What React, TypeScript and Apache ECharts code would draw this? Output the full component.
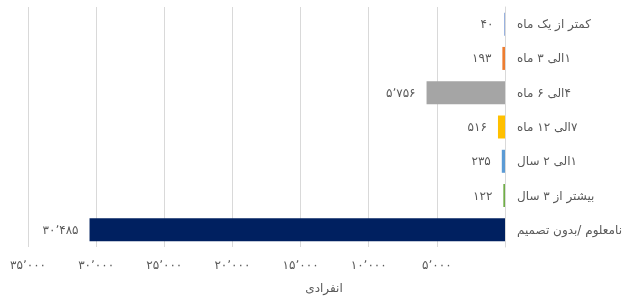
import React, { useEffect, useRef } from "react";
import * as echarts from "echarts";

const categories = [
  "کمتر از یک ماه",
  "۱الی ۳ ماه",
  "۴الی ۶ ماه",
  "۷الی ۱۲ ماه",
  "۱الی ۲ سال",
  "بیشتر از ۳ سال",
  "نامعلوم /بدون تصمیم",
];
const values = [40, 193, 5756, 516, 235, 122, 30485];
const barColors = ["#4472C4", "#ED7D31", "#A5A5A5", "#FFC000", "#5B9BD5", "#70AD47", "#002060"];
const axisMin = 0;
const axisMax = 35000;
const axisStep = 5000;
const axisTitle = "انفرادی";

const faDigits = "۰۱۲۳۴۵۶۷۸۹";
function toFa(n: number): string {
  const s = Math.round(n)
    .toString()
    .replace(/\B(?=(\d{3})+(?!\d))/g, "٬");
  return s.replace(/\d/g, (d) => faDigits[Number(d)]);
}
const rtl = (s: string) => "\u202B" + s + "\u202C";

const FONT = "'DejaVu Sans', Arial, sans-serif";
const TEXT_COLOR = "#595959";

export default function App() {
  const ref = useRef<HTMLDivElement>(null);
  useEffect(() => {
    if (!ref.current) return;
    const chart = echarts.init(ref.current, null, { renderer: "svg" });
    chart.setOption({
      animation: false,
      textStyle: { fontFamily: FONT },
      grid: { left: 28, right: 122, top: 7, bottom: 49, containLabel: false },
      xAxis: {
        type: "value",
        inverse: true,
        min: axisMin,
        max: axisMax,
        interval: axisStep,
        axisLine: { show: false },
        axisTick: { show: false },
        splitLine: { lineStyle: { color: "#d9d9d9", width: 1 } },
        axisLabel: {
          color: TEXT_COLOR,
          fontSize: 12,
          fontFamily: FONT,
          margin: 12,
          formatter: (v: number) => (v === 0 ? "" : toFa(v)),
        },
      },
      yAxis: {
        type: "category",
        position: "right",
        inverse: true,
        data: categories,
        axisLine: { show: true, lineStyle: { color: "#d9d9d9" } },
        axisTick: { show: false },
        axisLabel: {
          color: TEXT_COLOR,
          fontSize: 12,
          fontFamily: FONT,
          align: "left",
          margin: 12,
          formatter: (v: string) => rtl(v),
        },
      },
      graphic: [
        {
          type: "text",
          x: 324,
          y: 288,
          style: {
            text: axisTitle,
            fill: TEXT_COLOR,
            font: `12px ${FONT}`,
            textAlign: "center",
            textVerticalAlign: "middle",
          },
        },
      ],
      series: [
        {
          type: "bar",
          barWidth: 23,
          data: values.map((v, i) => ({ value: v, itemStyle: { color: barColors[i] } })),
          label: {
            show: true,
            position: "left",
            distance: 11,
            color: TEXT_COLOR,
            fontSize: 12,
            fontFamily: FONT,
            formatter: (p: any) => toFa(p.value),
          },
        },
      ],
    });
    return () => chart.dispose();
  }, []);
  return (
    <div
      ref={ref}
      style={{ position: "fixed", left: 0, top: 0, width: 627, height: 296 }}
    />
  );
}
